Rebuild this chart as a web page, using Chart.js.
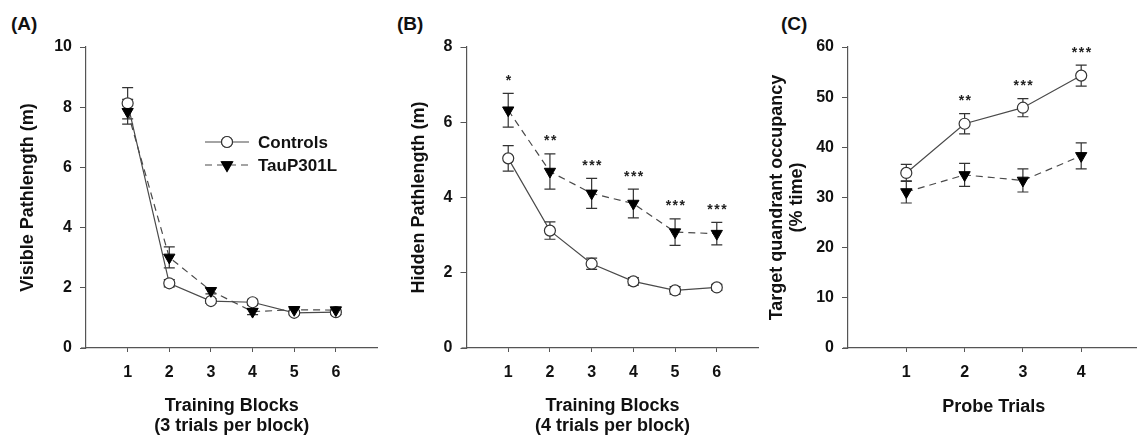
<!DOCTYPE html>
<html>
<head>
<meta charset="utf-8">
<script src="https://cdn.jsdelivr.net/npm/chart.js@4.4.1/dist/chart.umd.min.js"></script>
<style>
  html, body { margin: 0; padding: 0; background: #fff; overflow: hidden; width: 1137px; height: 436px; }
  .panel { position: absolute; top: 0; }
  .plabel { position: absolute; top: 13px; font: bold 19px "Liberation Sans", Arial, sans-serif; color: #111; }
</style>
</head>
<body>
<div class="plabel" style="left:11px">(A)</div>
<div class="plabel" style="left:397px">(B)</div>
<div class="plabel" style="left:781px">(C)</div>
<canvas id="chartA" class="panel" style="left:0px" width="385" height="436"></canvas>
<canvas id="chartB" class="panel" style="left:385px" width="381" height="436"></canvas>
<canvas id="chartC" class="panel" style="left:766px" width="381" height="436"></canvas>
<script>
// ---------- data ----------
const blocks = [1, 2, 3, 4, 5, 6];
const probeTrials = [1, 2, 3, 4];
const seriesNames = ['Controls', 'TauP301L'];

const visYTicks = [0, 2, 4, 6, 8, 10];
const hidYTicks = [0, 2, 4, 6, 8];
const probeYTicks = [0, 10, 20, 30, 40, 50, 60];

const visCtrl    = [8.13, 2.15, 1.56, 1.52, 1.17, 1.19];
const visCtrlErr = [0.52, 0.12, 0.08, 0.10, 0.07, 0.07];
const visTau     = [7.85, 3.01, 1.90, 1.21, 1.27, 1.26];
const visTauErr  = [0.41, 0.35, 0.10, 0.10, 0.06, 0.07];

const hidCtrl    = [5.04, 3.12, 2.24, 1.77, 1.53, 1.61];
const hidCtrlErr = [0.34, 0.23, 0.15, 0.10, 0.10, 0.08];
const hidTau     = [6.32, 4.69, 4.11, 3.84, 3.08, 3.04];
const hidTauErr  = [0.45, 0.47, 0.40, 0.38, 0.35, 0.30];
const hidStars   = ['*', '**', '***', '***', '***', '***'];

const probeCtrl    = [34.9, 44.7, 47.9, 54.3];
const probeCtrlErr = [1.7, 2.0, 1.8, 2.1];
const probeTau     = [31.1, 34.5, 33.4, 38.3];
const probeTauErr  = [2.2, 2.3, 2.3, 2.6];
const probeStars   = ['', '**', '***', '***'];

// ---------- styling helpers ----------
const FONT = '"Liberation Sans", Arial, sans-serif';
const INK = '#111';
const LINE = '#4a4a4a';

const pts = (xs, ys) => xs.map((x, i) => ({ x: x, y: ys[i] }));

function ctrlDataset(xs, ys, errs) {
  return {
    label: seriesNames[0], data: pts(xs, ys), errors: errs,
    showLine: true, borderColor: LINE, borderWidth: 1.2,
    pointStyle: 'circle', pointRadius: 5.5, pointBackgroundColor: '#fff',
    pointBorderColor: '#333', pointBorderWidth: 1.2, order: 2
  };
}
function tauDataset(xs, ys, errs) {
  return {
    label: seriesNames[1], data: pts(xs, ys), errors: errs,
    showLine: true, borderColor: LINE, borderWidth: 1.2, borderDash: [7, 5],
    pointStyle: 'triangle', rotation: 180, pointRadius: 6.5,
    pointBackgroundColor: '#000', pointBorderColor: '#000', pointBorderWidth: 1, order: 1
  };
}

const errorBarPlugin = {
  id: 'errorBars',
  beforeDatasetsDraw(chart) {
    const ctx = chart.ctx;
    const ys = chart.scales.y;
    ctx.save();
    ctx.strokeStyle = '#333';
    ctx.lineWidth = 1.2;
    // short extension of the x axis to the left of the y axis
    const ca = chart.chartArea;
    ctx.beginPath();
    ctx.moveTo(ca.left - 5, ca.bottom); ctx.lineTo(ca.left, ca.bottom);
    ctx.strokeStyle = '#555';
    ctx.stroke();
    ctx.strokeStyle = '#333';
    chart.data.datasets.forEach((ds, di) => {
      const meta = chart.getDatasetMeta(di);
      meta.data.forEach((el, i) => {
        const v = ds.data[i].y, e = ds.errors[i];
        const yt = ys.getPixelForValue(v + e), yb = ys.getPixelForValue(v - e);
        const x = el.x;
        ctx.beginPath();
        ctx.moveTo(x, yt); ctx.lineTo(x, yb);
        ctx.moveTo(x - 5.5, yt); ctx.lineTo(x + 5.5, yt);
        ctx.moveTo(x - 5.5, yb); ctx.lineTo(x + 5.5, yb);
        ctx.stroke();
      });
    });
    ctx.restore();
  }
};

const starPlugin = {
  id: 'stars',
  afterDatasetsDraw(chart, args, opts) {
    if (!opts || !opts.labels) return;
    const ctx = chart.ctx;
    const ys = chart.scales.y, xs = chart.scales.x;
    ctx.save();
    ctx.fillStyle = '#222';
    ctx.font = 'bold 14px ' + FONT;
    ctx.textAlign = 'center';
    ctx.textBaseline = 'alphabetic';
    if ('letterSpacing' in ctx) ctx.letterSpacing = '1.5px';
    opts.labels.forEach((s, i) => {
      if (!s) return;
      let top = Infinity;
      chart.data.datasets.forEach(ds => {
        const p = ys.getPixelForValue(ds.data[i].y + ds.errors[i]);
        if (p < top) top = p;
      });
      const x = xs.getPixelForValue(chart.data.datasets[0].data[i].x);
      ctx.fillText(s, x + 1, top - 8.5);
    });
    ctx.restore();
  }
};

const lineLegendPlugin = {
  id: 'lineLegend',
  afterDraw(chart, args, opts) {
    if (!opts || !opts.show) return;
    const ctx = chart.ctx;
    ctx.save();
    const rows = [
      { y: 142, dash: [], marker: 'circle' },
      { y: 165, dash: [7, 5], marker: 'tri' }
    ];
    rows.forEach((r, i) => {
      ctx.strokeStyle = LINE; ctx.lineWidth = 1.2;
      ctx.setLineDash(r.dash);
      ctx.beginPath(); ctx.moveTo(205, r.y); ctx.lineTo(249, r.y); ctx.stroke();
      ctx.setLineDash([]);
      const ds = chart.data.datasets[i];
      Chart.helpers.drawPoint(ctx, {
        pointStyle: ds.pointStyle, rotation: ds.rotation || 0,
        radius: ds.pointRadius, borderWidth: ds.pointBorderWidth
      }, 227, r.y);
      ctx.fillStyle = ds.pointBackgroundColor; ctx.strokeStyle = ds.pointBorderColor;
      ctx.lineWidth = ds.pointBorderWidth;
      ctx.fill(); ctx.stroke();
      ctx.fillStyle = INK;
      ctx.font = 'bold 17px ' + FONT;
      ctx.textAlign = 'left'; ctx.textBaseline = 'middle';
      ctx.fillText(ds.label, 258, r.y + 1);
    });
    ctx.restore();
  }
};

function makeChart(id, cfg) {
  const xTickVals = cfg.xTicks, yTickVals = cfg.yTicks;
  return new Chart(document.getElementById(id), {
    type: 'scatter',
    data: { datasets: cfg.datasets },
    plugins: [errorBarPlugin, starPlugin, lineLegendPlugin],
    options: {
      responsive: false,
      animation: false,
      events: [],
      layout: { padding: { top: 47, left: 0, right: 0, bottom: 0 } },
      plugins: {
        legend: { display: false },
        tooltip: { enabled: false },
        stars: { labels: cfg.stars },
        lineLegend: { show: !!cfg.legend }
      },
      scales: {
        x: {
          type: 'linear', min: cfg.xMin, max: cfg.xMax,
          afterBuildTicks: axis => { axis.ticks = xTickVals.map(v => ({ value: v })); },
          afterFit: s => { s.height = 88; },
          grid: { display: true, drawOnChartArea: false, drawTicks: true, tickLength: 4, color: '#555', lineWidth: 1 },
          border: { display: true, color: '#555', width: 1.2 },
          ticks: { color: INK, font: { family: FONT, size: 16, weight: 'bold' }, padding: 11, maxRotation: 0 },
          title: {
            display: true, text: cfg.xTitle, color: INK,
            font: { family: FONT, size: 18, weight: 'bold', lineHeight: 1.12 },
            padding: { top: 0, bottom: cfg.xTitlePad }
          }
        },
        y: {
          type: 'linear', min: yTickVals[0], max: yTickVals[yTickVals.length - 1],
          afterBuildTicks: axis => { axis.ticks = yTickVals.map(v => ({ value: v })); },
          afterFit: s => { s.width = cfg.yWidth; },
          grid: { display: true, drawOnChartArea: false, drawTicks: true, tickLength: 6, color: '#555', lineWidth: 1 },
          border: { display: true, color: '#555', width: 1.2 },
          ticks: { color: INK, font: { family: FONT, size: 16, weight: 'bold' }, padding: 8 },
          title: {
            display: true, text: cfg.yTitle, color: INK,
            font: { family: FONT, size: 18, weight: 'bold', lineHeight: 1.12 },
            padding: { top: cfg.yTitlePad, bottom: 0 }
          }
        }
      }
    }
  });
}

makeChart('chartA', {
  datasets: [ctrlDataset(blocks, visCtrl, visCtrlErr), tauDataset(blocks, visTau, visTauErr)],
  xTicks: blocks, yTicks: visYTicks, xMin: 0, xMax: 7,
  xTitle: ['Training Blocks', '(3 trials per block)'], xTitlePad: 0,
  yTitle: 'Visible Pathlength (m)', yTitlePad: 18, yWidth: 86,
  stars: null, legend: true
});

makeChart('chartB', {
  datasets: [ctrlDataset(blocks, hidCtrl, hidCtrlErr), tauDataset(blocks, hidTau, hidTauErr)],
  xTicks: blocks, yTicks: hidYTicks, xMin: 0, xMax: 7,
  xTitle: ['Training Blocks', '(4 trials per block)'], xTitlePad: 0,
  yTitle: 'Hidden Pathlength (m)', yTitlePad: 24, yWidth: 81.5,
  stars: hidStars, legend: false
});

makeChart('chartC', {
  datasets: [ctrlDataset(probeTrials, probeCtrl, probeCtrlErr), tauDataset(probeTrials, probeTau, probeTauErr)],
  xTicks: probeTrials, yTicks: probeYTicks, xMin: 0, xMax: 5,
  xTitle: 'Probe Trials', xTitlePad: 19,
  yTitle: ['Target quandrant occupancy', '(% time)'], yTitlePad: 1, yWidth: 82,
  stars: probeStars, legend: false
});
</script>
</body>
</html>
